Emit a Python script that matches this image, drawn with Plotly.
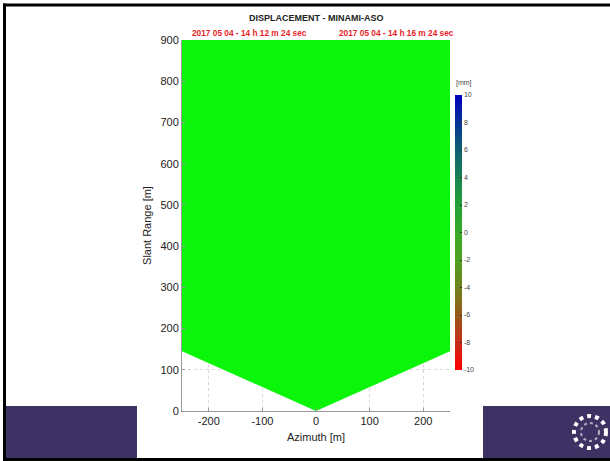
import plotly.graph_objects as go

# ---- data ----
azimuth_boundary = [-250, 0, 250, 250, -250, -250]
range_boundary = [145, 0, 145, 900, 900, 145]
x_ticks = [-200, -100, 0, 100, 200]
y_ticks = [0, 100, 200, 300, 400, 500, 600, 700, 800, 900]
cbar_ticks = [-10, -8, -6, -4, -2, 0, 2, 4, 6, 8, 10]
title_text = "DISPLACEMENT - MINAMI-ASO"
time_start = "2017 05 04 - 14 h 12 m 24 sec"
time_end = "2017 05 04 - 14 h 16 m 24 sec"

W, H = 610, 461
L, R, T, B = 182, 160, 40, 50
PW, PH = W - L - R, H - T - B

def px(x):
    return (x - L) / PW

def py(y):
    return (H - B - y) / PH

FONT = "Liberation Sans, Arial, sans-serif"

colorscale = [
    [0.0, "rgb(255,0,0)"],
    [0.1, "rgb(200,45,25)"],
    [0.2, "rgb(150,90,25)"],
    [0.3, "rgb(110,130,30)"],
    [0.4, "rgb(80,160,35)"],
    [0.5, "rgb(55,170,40)"],
    [0.6, "rgb(35,160,55)"],
    [0.7, "rgb(25,130,80)"],
    [0.8, "rgb(15,95,115)"],
    [0.9, "rgb(8,50,150)"],
    [1.0, "rgb(0,0,190)"],
]

fig = go.Figure()
fig.add_trace(go.Scatter(
    x=azimuth_boundary, y=range_boundary, mode="lines", fill="toself",
    fillcolor="rgb(10,245,10)", line=dict(width=0, color="rgb(10,245,10)"),
    hoverinfo="skip", showlegend=False,
))
fig.add_trace(go.Scatter(
    x=[None], y=[None], mode="markers",
    marker=dict(color=[0], cmin=-10, cmax=10, colorscale=colorscale, showscale=True,
                colorbar=dict(
                    x=px(455), xanchor="left", y=py(232.5), yanchor="middle",
                    len=275, lenmode="pixels", thickness=7, thicknessmode="pixels",
                    outlinewidth=0, tickvals=cbar_ticks,
                    ticktext=[str(v) for v in cbar_ticks],
                    ticks="inside", ticklen=2, tickcolor="#333",
                    tickfont=dict(size=7, color="#444", family=FONT),
                    xpad=0, ypad=0,
                )),
    showlegend=False, hoverinfo="skip",
))

axis_common = dict(
    showgrid=True, gridcolor="#d8d8d8", griddash="dot", gridwidth=1,
    zeroline=False, showline=True, linecolor="#999", linewidth=1,
    ticks="inside", ticklen=3, tickcolor="#999",
    tickfont=dict(size=11, color="#222", family=FONT),
)
fig.update_xaxes(range=[-250, 250], tickvals=x_ticks, ticktext=[str(v) for v in x_ticks], **axis_common,
                 title=dict(text="Azimuth [m]", font=dict(size=11, color="#222", family=FONT), standoff=7))
fig.update_yaxes(range=[0, 900], tickvals=y_ticks, ticktext=[str(v) for v in y_ticks], **axis_common,
                 title=dict(text="Slant Range [m]", font=dict(size=11, color="#222", family=FONT), standoff=6))

shapes = []
purple = "rgb(62,49,99)"
shapes.append(dict(type="rect", xref="paper", yref="paper", x0=px(5), x1=px(137), y0=py(406), y1=py(459),
                   fillcolor=purple, line=dict(width=0), layer="below"))
shapes.append(dict(type="rect", xref="paper", yref="paper", x0=px(483), x1=px(611), y0=py(406), y1=py(459),
                   fillcolor=purple, line=dict(width=0), layer="below"))
# frame lines
shapes.append(dict(type="rect", xref="paper", yref="paper", x0=px(3), x1=px(611), y0=py(6.5), y1=py(3.5),
                   fillcolor="black", line=dict(width=0)))
shapes.append(dict(type="rect", xref="paper", yref="paper", x0=px(3), x1=px(6), y0=py(461), y1=py(3.5),
                   fillcolor="black", line=dict(width=0)))
shapes.append(dict(type="rect", xref="paper", yref="paper", x0=px(3), x1=px(611), y0=py(461), y1=py(458),
                   fillcolor="black", line=dict(width=0)))
# logo
shapes.append(dict(type="circle", xref="paper", yref="paper", x0=px(574), x1=px(606), y0=py(448), y1=py(416),
                   line=dict(color="white", width=4, dash="dot")))
shapes.append(dict(type="circle", xref="paper", yref="paper", x0=px(581), x1=px(599), y0=py(441), y1=py(423),
                   line=dict(color="rgba(255,255,255,0.6)", width=2, dash="dot")))

annotations = [
    dict(text=f"<b>{title_text}</b>", x=px(316), y=py(18), xref="paper", yref="paper",
         showarrow=False, font=dict(size=9, color="#222", family=FONT), xanchor="center", yanchor="middle"),
    dict(text=f"<b>{time_start}</b>", x=px(249), y=py(33), xref="paper", yref="paper",
         showarrow=False, font=dict(size=8.3, color="rgb(230,30,40)", family=FONT), xanchor="center", yanchor="middle"),
    dict(text=f"<b>{time_end}</b>", x=px(396), y=py(33), xref="paper", yref="paper",
         showarrow=False, font=dict(size=8.3, color="rgb(230,30,40)", family=FONT), xanchor="center", yanchor="middle"),
    dict(text="[mm]", x=px(454), y=py(83), xref="paper", yref="paper",
         showarrow=False, font=dict(size=7, color="#444", family=FONT), xanchor="left", yanchor="middle"),
]

fig.update_layout(
    width=W, height=H, margin=dict(l=L, r=R, t=T, b=B, pad=0),
    paper_bgcolor="white", plot_bgcolor="white",
    shapes=shapes, annotations=annotations, showlegend=False,
)
fig.write_html("out.html")
